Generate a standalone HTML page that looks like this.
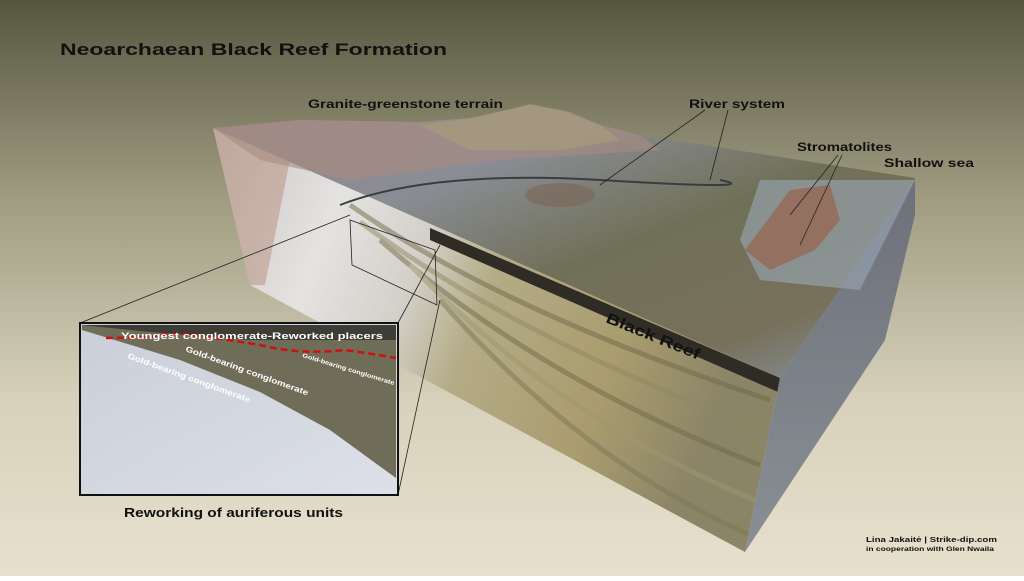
<!DOCTYPE html>
<html><head><meta charset="utf-8"><style>
html,body{margin:0;padding:0}
body{width:1024px;height:576px;overflow:hidden;font-family:"Liberation Sans",sans-serif}
</style></head><body>
<svg width="1024" height="576" viewBox="0 0 1024 576" xmlns="http://www.w3.org/2000/svg">
<defs>
<linearGradient id="bg" x1="0" y1="0" x2="0" y2="1">
<stop offset="0" stop-color="#56563f"/><stop offset="0.35" stop-color="#a09d82"/><stop offset="0.7" stop-color="#d8d2bc"/><stop offset="1" stop-color="#e6e0cd"/></linearGradient>
<linearGradient id="front" x1="0" y1="0" x2="1" y2="0.3">
<stop offset="0" stop-color="#c9c5c0"/><stop offset="0.25" stop-color="#e4e3e2"/><stop offset="0.42" stop-color="#d3d0c8"/><stop offset="0.55" stop-color="#b4ab86"/><stop offset="0.8" stop-color="#a99c6e"/><stop offset="1" stop-color="#8b8466"/></linearGradient>
<linearGradient id="top" x1="0" y1="0" x2="1" y2="1">
<stop offset="0" stop-color="#9a8a88"/><stop offset="0.3" stop-color="#8a8d95"/><stop offset="0.55" stop-color="#707058"/><stop offset="0.8" stop-color="#77705a"/><stop offset="1" stop-color="#8a98a8"/></linearGradient>
<linearGradient id="right" x1="0" y1="0" x2="0" y2="1">
<stop offset="0" stop-color="#6d7078"/><stop offset="1" stop-color="#8a8f96"/></linearGradient>
<linearGradient id="inset" x1="0" y1="0" x2="1" y2="1">
<stop offset="0" stop-color="#c9ced8"/><stop offset="1" stop-color="#dde0e8"/></linearGradient>
</defs>
<rect width="1024" height="576" fill="url(#bg)"/>
<polygon points="213,128 780,378 745,552 250,285" fill="url(#front)"/>
<polygon points="213,128 290,160 265,285 250,285" fill="#b07a66" opacity="0.4"/>
<g fill="none" stroke-width="5" opacity="0.5">
<path d="M350,205 Q500,310 770,400" stroke="#6f6a4a"/>
<path d="M360,222 Q520,340 765,430" stroke="#8e8a62"/>
<path d="M380,240 Q540,380 760,465" stroke="#6f6a4a"/>
<path d="M410,265 Q560,420 755,500" stroke="#9e9870"/>
<path d="M440,300 Q580,460 750,535" stroke="#7d7858"/>
</g>
<polygon points="430,228 780,378 778,392 430,240" fill="#2e2c25"/>
<polygon points="780,378 915,178 915,215 885,340 745,552" fill="url(#right)"/>
<polygon points="213,128 300,120 420,122 470,118 530,105 570,112 600,125 640,135 915,178 780,378" fill="url(#top)"/>
<polygon points="213,128 300,120 420,122 470,118 530,105 570,112 600,125 640,135 660,150 500,160 350,180 260,160" fill="#a88a80" opacity="0.6"/>
<polygon points="420,125 475,118 530,104 560,110 600,125 620,140 560,150 470,150" fill="#a9a07a" opacity="0.6"/>
<polygon points="760,180 915,180 860,290 760,280 740,240" fill="#9aa8b8" opacity="0.6"/>
<polygon points="790,190 830,185 840,220 815,250 770,270 745,250" fill="#9a5a40" opacity="0.6"/>
<ellipse cx="560" cy="195" rx="35" ry="12" fill="#7a6050" opacity="0.5"/>
<path d="M340,205 Q430,170 600,180 T720,180" stroke="#3a3d40" stroke-width="2" fill="none"/>
<g stroke="#222" stroke-width="0.8" fill="none">
<line x1="80" y1="323" x2="350" y2="215"/><line x1="398" y1="323" x2="440" y2="245"/>
<line x1="398" y1="495" x2="440" y2="300"/>
<polygon points="350,220 435,250 437,305 352,265"/>
<line x1="705" y1="110" x2="600" y2="185"/><line x1="728" y1="110" x2="710" y2="180"/>
<line x1="838" y1="155" x2="790" y2="215"/><line x1="842" y1="155" x2="800" y2="245"/>
</g>
<rect x="80" y="323" width="318" height="172" fill="url(#inset)" stroke="#111" stroke-width="2"/>
<polygon points="82,325 396,325 396,478 330,430 260,392 180,360 82,330" fill="#6f6c58"/>
<polygon points="82,325 396,325 396,340 250,340 150,332" fill="#3d3c35"/>
<path d="M106,338 L150,337 Q170,332 200,336 Q230,340 260,345 Q300,355 345,350 Q380,355 396,358" stroke="#d01010" stroke-width="2.5" stroke-dasharray="7,4" fill="none"/>
<g fill="#fff" font-weight="bold">
<text x="121" y="339" font-size="9.5" textLength="262" lengthAdjust="spacingAndGlyphs">Youngest conglomerate-Reworked placers</text>
<text x="185" y="351" font-size="8" transform="rotate(20 185 351)" textLength="130" lengthAdjust="spacingAndGlyphs">Gold-bearing conglomerate</text>
<text x="127" y="358" font-size="8" transform="rotate(20 127 358)" textLength="130" lengthAdjust="spacingAndGlyphs">Gold-bearing conglomerate</text>
<text x="302" y="357" font-size="6" transform="rotate(17 302 357)" textLength="96" lengthAdjust="spacingAndGlyphs">Gold-bearing conglomerate</text>
</g>
<g font-weight="bold" fill="#111" lengthAdjust="spacingAndGlyphs">
<text x="60" y="55" font-size="17" textLength="387" lengthAdjust="spacingAndGlyphs">Neoarchaean Black Reef Formation</text>
<text x="308" y="108" font-size="12" textLength="195" lengthAdjust="spacingAndGlyphs">Granite-greenstone terrain</text>
<text x="689" y="108" font-size="12" textLength="96" lengthAdjust="spacingAndGlyphs">River system</text>
<text x="797" y="151" font-size="12" textLength="95" lengthAdjust="spacingAndGlyphs">Stromatolites</text>
<text x="884" y="167" font-size="12" textLength="90" lengthAdjust="spacingAndGlyphs">Shallow sea</text>
<text x="605" y="322" font-size="15" transform="rotate(22 605 322)" textLength="100" lengthAdjust="spacingAndGlyphs">Black Reef</text>
<text x="124" y="517" font-size="13" textLength="219" lengthAdjust="spacingAndGlyphs">Reworking of auriferous units</text>
<text x="866" y="542" font-size="7.5" textLength="131" lengthAdjust="spacingAndGlyphs">Lina Jakaitė | Strike-dip.com</text>
<text x="866" y="551" font-size="6.5" textLength="128" lengthAdjust="spacingAndGlyphs">in cooperation with Glen Nwaila</text>
</g>
</svg>
</body></html>
